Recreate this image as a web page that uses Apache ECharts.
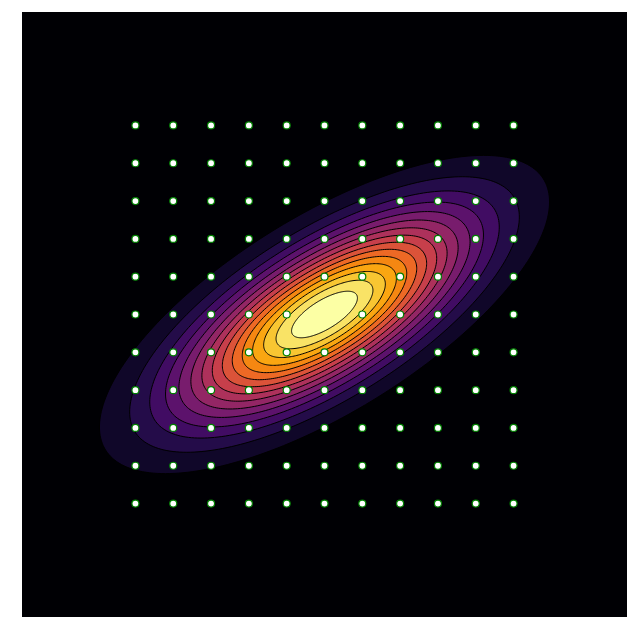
<!DOCTYPE html>
<html>
<head>
<meta charset="utf-8">
<script src="https://cdn.jsdelivr.net/npm/echarts@6.0.0/dist/echarts.min.js"></script>
<style>
	html, body { margin: 0; padding: 0; background: #ffffff; }
	#main { width: 639px; height: 639px; }
</style>
</head>
<body>
<div id="main"></div>
<script>
// 二维高斯分布参数
var mean = [0, 0];
var cov = [[1.6, 0.8], [0.8, 0.8]];
// 等值线的密度值
var levels = [0, 0.0125, 0.025, 0.0375, 0.05, 0.0625, 0.075, 0.0875, 0.1,
	0.1125, 0.125, 0.1375, 0.15, 0.1625, 0.175, 0.1875, 0.2];
// 采样点网格
var gridX = [-2.5, -2, -1.5, -1, -0.5, 0, 0.5, 1, 1.5, 2, 2.5];
var gridY = [-2.5, -2, -1.5, -1, -0.5, 0, 0.5, 1, 1.5, 2, 2.5];
// 坐标范围
var axisMin = -4, axisMax = 4;

// inferno 色带
var inferno = ['#000004', '#1b0c41', '#4a0c6b', '#781c6d', '#a52c60',
	'#cf4446', '#ed6925', '#fb9b06', '#f7d13d', '#fcffa4'];

function hexToRgb(h) {
	return [parseInt(h.substr(1, 2), 16), parseInt(h.substr(3, 2), 16), parseInt(h.substr(5, 2), 16)];
}
function cmap(t) {
	var n = inferno.length - 1;
	var p = Math.max(0, Math.min(1, t)) * n;
	var i = Math.min(Math.floor(p), n - 1), f = p - i;
	var a = hexToRgb(inferno[i]), b = hexToRgb(inferno[i + 1]);
	var c = [0, 1, 2].map(function(k) { return Math.round(a[k] + (b[k] - a[k]) * f); });
	return 'rgb(' + c.join(',') + ')';
}

var det = cov[0][0] * cov[1][1] - cov[0][1] * cov[1][0];
var peak = 1 / (2 * Math.PI * Math.sqrt(det));
// Cholesky 分解
var l11 = Math.sqrt(cov[0][0]), l21 = cov[1][0] / l11, l22 = Math.sqrt(cov[1][1] - l21 * l21);
var nBands = levels.length - 1;

var bandData = [];
for (var k = 0; k < nBands; k++) {
	if (k === 0 || levels[k] < peak) bandData.push([k]);
}
// 网格点（中心点不画）
var pointData = [];
for (var i = 0; i < gridX.length; i++) {
	for (var j = 0; j < gridY.length; j++) {
		if (gridX[i] === mean[0] && gridY[j] === mean[1]) continue;
		pointData.push([gridX[i], gridY[j]]);
	}
}

function renderBand(params, api) {
	var k = api.value(0);
	var color = cmap(k / (nBands - 1));
	if (k === 0) {
		var p0 = api.coord([axisMin, axisMax]), p1 = api.coord([axisMax, axisMin]);
		return { type: 'rect', shape: { x: p0[0], y: p0[1], width: p1[0] - p0[0], height: p1[1] - p0[1] },
			style: { fill: color } };
	}
	var r = Math.sqrt(-2 * Math.log(levels[k] / peak));
	var pts = [];
	for (var s = 0; s < 240; s++) {
		var t = s / 240 * 2 * Math.PI;
		var u = r * Math.cos(t), v = r * Math.sin(t);
		pts.push(api.coord([mean[0] + l11 * u, mean[1] + l21 * u + l22 * v]));
	}
	return { type: 'polygon', shape: { points: pts },
		style: { fill: color, stroke: '#000000', lineWidth: 1 } };
}

var chart = echarts.init(document.getElementById('main'));
chart.setOption({
	animation: false,
	grid: { left: 22, top: 12, width: 605, height: 605 },
	xAxis: { type: 'value', min: axisMin, max: axisMax, show: false },
	yAxis: { type: 'value', min: axisMin, max: axisMax, show: false },
	series: [{
		type: 'custom',
		renderItem: renderBand,
		clip: true,
		data: bandData,
		encode: { x: -1, y: -1 },
		z: 1
	}, {
		type: 'scatter',
		data: pointData,
		symbolSize: 7,
		itemStyle: { color: '#ffffff', borderColor: '#008000', borderWidth: 1.2, opacity: 1 },
		z: 3
	}]
});
</script>
</body>
</html>
